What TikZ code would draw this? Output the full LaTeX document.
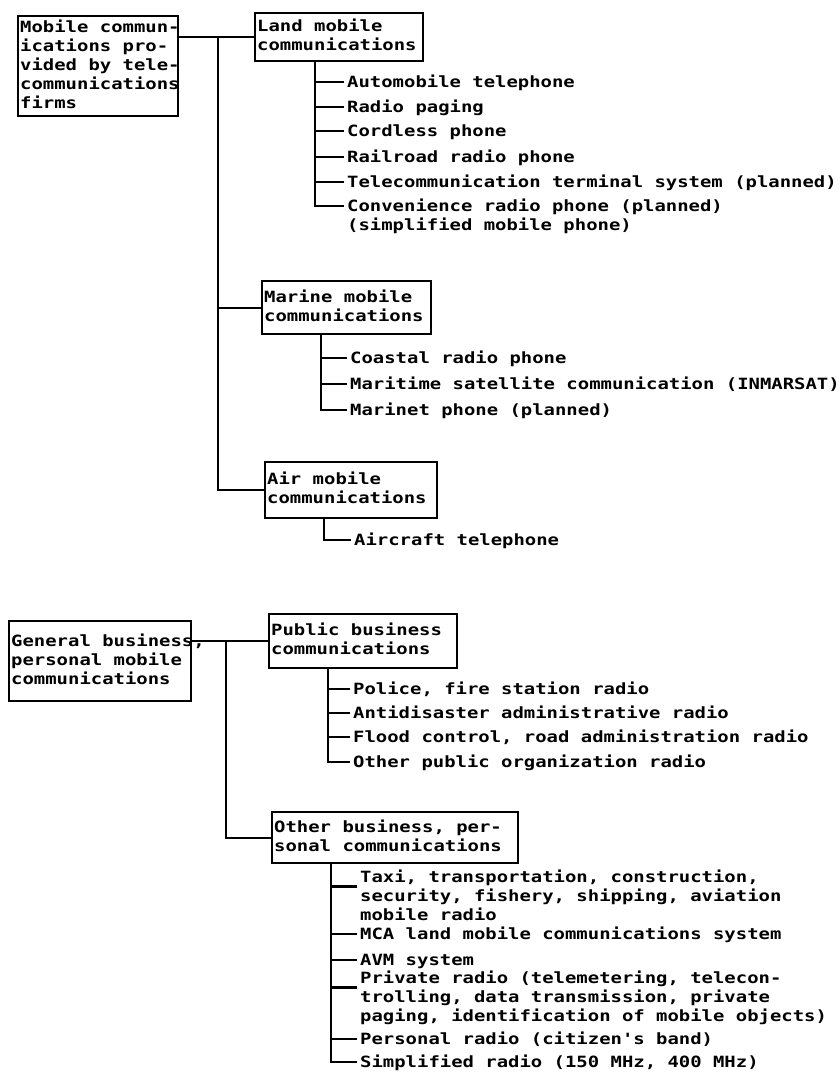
\documentclass[tikz,border=0pt]{standalone}
\usepackage{fontspec}
\usepackage{tikz}
\usetikzlibrary{positioning}
\newfontfamily\dotfont[FakeStretch=1.22]{DejaVu Sans Mono}
\newcommand{\boxlines}[2]{\makebox[#1][l]{\begin{tabular}{@{}l@{}}#2\end{tabular}}}

\begin{document}
\begin{tikzpicture}[x=1pt, y=-1pt,
    every node/.style={font=\dotfont\bfseries\fontsize{15.5}{19}\selectfont},
    box/.style={draw, line width=2.4pt, anchor=north west, align=left, inner xsep=2pt, inner ysep=2pt},
    item/.style={anchor=north west, align=left, inner sep=0pt},
    link/.style={line width=2.2pt}]
    \useasboundingbox[fill=white] (0,0) rectangle (840,1072);

    \node[box, minimum height=100pt] (mob) at (17,15)
      {\boxlines{156pt}{Mobile commun-\\ications pro-\\vided by tele-\\communications\\firms}};

    \node[box, minimum height=48pt] (land) at (254,12)
      {\boxlines{164pt}{Land mobile\\communications}};
    \node[box, minimum height=53pt] (marine) at (261,280)
      {\boxlines{165pt}{Marine mobile\\communications}};
    \node[box, minimum height=56pt] (air) at (264,461)
      {\boxlines{168pt}{Air mobile\\communications}};

    \node[item] (auto) at (347,74) {\strut Automobile telephone};
    \node[item] (pag) at (347,99) {\strut Radio paging};
    \node[item] (cord) at (347,123) {\strut Cordless phone};
    \node[item] (rail) at (347,149) {\strut Railroad radio phone};
    \node[item] (term) at (347,174) {\strut Telecommunication terminal system (planned)};
    \node[item] (conv) at (347,198) {\strut Convenience radio phone (planned)\\(simplified mobile phone)};

    \node[item] (coast) at (350,350) {\strut Coastal radio phone};
    \node[item] (sat) at (350,376) {\strut Maritime satellite communication (INMARSAT)};
    \node[item] (marinet) at (350,402) {\strut Marinet phone (planned)};

    \node[item] (craft) at (354,532) {\strut Aircraft telephone};

    \node[box, minimum height=80pt] (gen) at (8,620)
      {\boxlines{178pt}{General business,\\personal mobile\\communications}};
    \node[box, minimum height=54pt] (pub) at (268,613)
      {\boxlines{184pt}{Public business\\communications}};
    \node[box, minimum height=51pt] (oth) at (271,811)
      {\boxlines{242pt}{Other business, per-\\sonal communications}};

    \node[item] (police) at (353,681) {\strut Police, fire station radio};
    \node[item] (disas) at (353,705) {\strut Antidisaster administrative radio};
    \node[item] (flood) at (353,729) {\strut Flood control, road administration radio};
    \node[item] (pubo) at (353,754) {\strut Other public organization radio};

    \node[item] (taxi) at (360,869) {\strut Taxi, transportation, construction,\\security, fishery, shipping, aviation\\mobile radio};
    \node[item] (mca) at (360,926) {\strut MCA land mobile communications system};
    \node[item] (avm) at (360,952) {\strut AVM system};
    \node[item] (priv) at (360,970) {\strut Private radio (telemetering, telecon-\\trolling, data transmission, private\\paging, identification of mobile objects)};
    \node[item] (pers) at (360,1031) {\strut Personal radio (citizen's band)};
    \node[item] (simp) at (360,1054) {\strut Simplified radio (150 MHz, 400 MHz)};

    \coordinate (mobt) at (218,0 |- land.west);
    \coordinate (gent) at (226,0 |- pub.west);
    \coordinate (landb) at ([xshift=61pt]land.south west);
    \coordinate (marineb) at ([xshift=60pt]marine.south west);
    \coordinate (airb) at ([xshift=60pt]air.south west);
    \coordinate (pubb) at ([xshift=60pt]pub.south west);
    \coordinate (othb) at ([xshift=60pt]oth.south west);

    \draw[link] (land.west -| mob.east) -- (land.west);
    \draw[link] (mobt) |- (marine.west);
    \draw[link] (mobt) |- (air.west);
    \draw[link] (pub.west -| gen.east) -- (pub.west);
    \draw[link] (gent) |- (oth.west);

    \foreach \n in {auto, pag, cord, rail, term, conv}
      \draw[link] (landb) |- ([xshift=-3pt, yshift=-8pt]\n.north west);
    \foreach \n in {coast, sat, marinet}
      \draw[link] (marineb) |- ([xshift=-3pt, yshift=-8pt]\n.north west);
    \draw[link] (airb) |- ([xshift=-3pt, yshift=-8pt]craft.north west);
    \foreach \n in {police, disas, flood, pubo}
      \draw[link] (pubb) |- ([xshift=-3pt, yshift=-8pt]\n.north west);
    \foreach \n in {mca, avm, pers, simp}
      \draw[link] (othb) |- ([xshift=-3pt, yshift=-8pt]\n.north west);
    \foreach \n in {taxi, priv}
      \draw[link] (othb) |- ([xshift=-3pt, yshift=-17.5pt]\n.north west);
  \end{tikzpicture}
\end{document}
